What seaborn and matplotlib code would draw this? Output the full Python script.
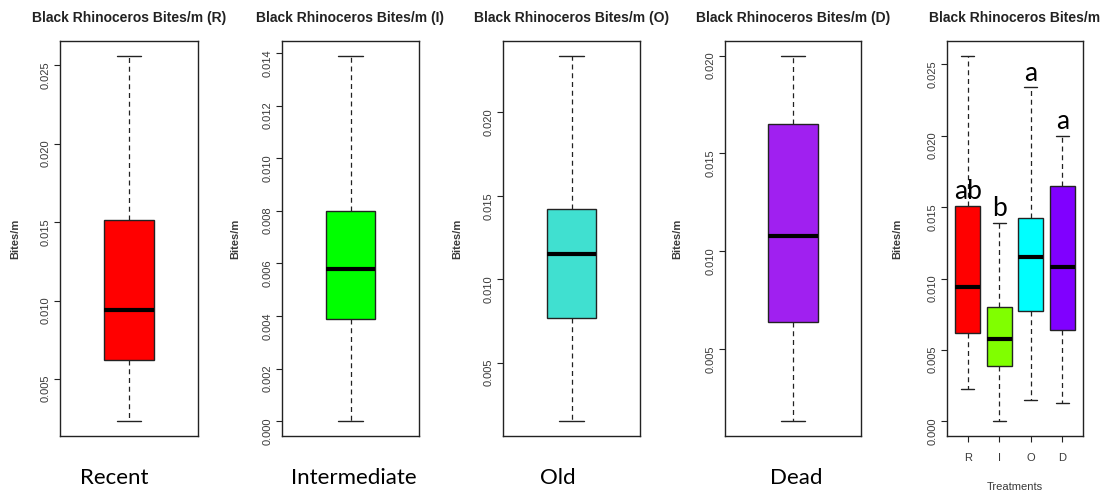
import numpy as np
import pandas as pd
import matplotlib
matplotlib.use("Agg")
import matplotlib.pyplot as plt
import seaborn as sns
from matplotlib.ticker import MultipleLocator, FormatStrFormatter

# Five-number summaries of black rhinoceros bites per metre, by carcass age class
codes = ["R", "I", "O", "D"]
names = ["Recent", "Intermediate", "Old", "Dead"]
whisker_low = [0.0023, 0.0000, 0.0015, 0.0013]
quart1 = [0.0062, 0.0039, 0.0077, 0.0064]
medians = [0.0094, 0.0058, 0.0115, 0.0108]
quart3 = [0.0151, 0.0080, 0.0142, 0.0165]
whisker_high = [0.0256, 0.0139, 0.0234, 0.0200]

# Significance groupings shown over the combined panel
letters = ["ab", "b", "a", "a"]
letter_y = [quart3[0], whisker_high[1], whisker_high[2], whisker_high[3]]

single_colors = ["#FF0000", "#00FF00", "#40E0D0", "#A020F0"]
combined_colors = ["#FF0000", "#80FF00", "#00FFFF", "#8000FF"]
tick_steps = [0.005, 0.002, 0.005, 0.005]
combined_step = 0.005

rows = []
for c, lo, a, m, b, hi in zip(codes, whisker_low, quart1, medians, quart3, whisker_high):
    for v in (lo, a, m, b, hi):
        rows.append({"Treatment": c, "Bites/m": v})
df = pd.DataFrame(rows)

sns.set_style("white")
plt.rcParams["font.family"] = ["Liberation Sans", "DejaVu Sans"]

W, H = 1104, 494
fig = plt.figure(figsize=(W / 100, H / 100), dpi=100)
fig.patch.set_facecolor("white")

axes_px = [(60, 198), (282, 419), (503, 640), (725, 861), (947, 1083)]
top_px, bot_px = 41, 436
ylab_off_px = [40, 42, 41, 43, 45]
name_x_px = [114, 354, 558, 796]
name_y_px = 478

dark = "#222222"
label_col = "#3a3a3a"


def make_axes(x0, x1):
    return fig.add_axes([x0 / W, (H - bot_px) / H, (x1 - x0) / W, (bot_px - top_px) / H])


def style_axes(ax, step, lo, hi, loff, width_px):
    pad = 0.04 * (hi - lo)
    ax.set_ylim(lo - pad, hi + pad)
    ax.yaxis.set_major_locator(MultipleLocator(step))
    ax.yaxis.set_major_formatter(FormatStrFormatter("%.3f"))
    ax.tick_params(axis="y", labelrotation=90, labelsize=8, labelcolor=label_col,
                   length=4, width=0.8, color=dark, pad=3, left=True)
    for sp in ax.spines.values():
        sp.set_visible(True)
        sp.set_color(dark)
        sp.set_linewidth(1.0)
    ax.set_ylabel("Bites/m", fontsize=8, fontweight="bold", color=label_col)
    ax.yaxis.set_label_coords(-loff / width_px, 0.5)


box_kw = dict(
    whis=(0, 100), saturation=1, linecolor=dark, linewidth=1.0,
    medianprops=dict(color="black", linewidth=3),
    whiskerprops=dict(linestyle=(0, (4, 3)), linewidth=0.9),
    capprops=dict(linewidth=1.0),
)

# Individual panels
for i, c in enumerate(codes):
    x0, x1 = axes_px[i]
    ax = make_axes(x0, x1)
    sub = df[df["Treatment"] == c]
    sns.boxplot(data=sub, x="Treatment", y="Bites/m", color=single_colors[i],
                width=0.39, ax=ax, **box_kw)
    ax.set_xlim(-0.54, 0.54)
    ax.set_xticks([])
    ax.set_xlabel("")
    style_axes(ax, tick_steps[i], whisker_low[i], whisker_high[i], ylab_off_px[i], x1 - x0)
    ax.set_title(f"Black Rhinoceros Bites/m ({c})", fontsize=10, fontweight="bold",
                 color=dark, pad=14)
    fig.text(name_x_px[i] / W, 1 - name_y_px / H, names[i], family="Lato",
             fontsize=16, ha="center", va="center", color="black")

# Combined panel
x0, x1 = axes_px[4]
ax = make_axes(x0, x1)
sns.boxplot(data=df, x="Treatment", y="Bites/m", hue="Treatment", order=codes,
            hue_order=codes, palette=combined_colors, legend=False, width=0.8,
            ax=ax, **box_kw)
n = len(codes)
ax.set_xlim(-0.5 - 0.04 * n, n - 0.5 + 0.04 * n)
style_axes(ax, combined_step, min(whisker_low), max(whisker_high), ylab_off_px[4], x1 - x0)
ax.tick_params(axis="x", bottom=True, length=4, width=0.8, color=dark,
               labelsize=8, labelcolor=label_col, pad=8)
ax.set_xlabel("Treatments", fontsize=8, color=label_col, labelpad=14)
ax.set_title("Black Rhinoceros Bites/m", fontsize=10, fontweight="bold",
             color=dark, pad=14)
for i, (lab, yv) in enumerate(zip(letters, letter_y)):
    ax.text(i, yv + 0.0001, lab, family="Lato", fontsize=19, ha="center",
            va="bottom", color="black")

fig.savefig("out.png", dpi=100, facecolor="white")
